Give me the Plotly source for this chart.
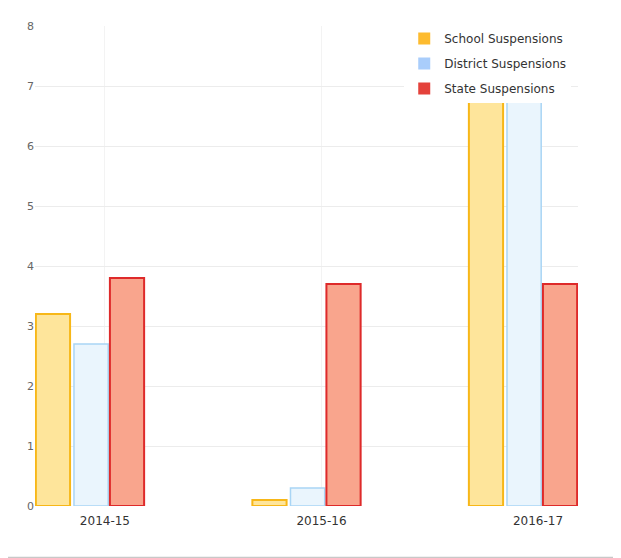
import plotly.graph_objects as go

years = ["2014-15", "2015-16", "2016-17"]
school = [3.2, 0.1, 7.0]
district = [2.7, 0.3, 7.0]
state = [3.8, 3.7, 3.7]
y_ticks = [0, 1, 2, 3, 4, 5, 6, 7, 8]

series = [
    ("School Suspensions", school, "#FEE59B", "#F7B718", "#FDBB2F", -0.319, 2),
    ("District Suspensions", district, "#EAF5FD", "#A9D5F5", "#A9CDFB", -0.143, 1.5),
    ("State Suspensions", state, "#F9A58D", "#DE2A2A", "#E4423B", 0.023, 2),
]

fig = go.Figure()
for name, vals, fill, border, swatch, off, lw in series:
    fig.add_trace(go.Bar(
        x=years, y=vals, name=name, showlegend=False,
        offset=off, width=0.158,
        marker=dict(color=fill, line=dict(color=border, width=lw)),
    ))
for name, vals, fill, border, swatch, off, lw in series:
    fig.add_trace(go.Bar(
        x=[None], y=[None], name=name, legendgroup=name,
        marker=dict(color=swatch, line=dict(color=swatch, width=0)),
    ))

fig.update_layout(
    width=613, height=550,
    margin=dict(l=27, r=43, t=12, b=52),
    paper_bgcolor="white", plot_bgcolor="white",
    barmode="overlay",
    font=dict(family="DejaVu Sans", color="#333333"),
    legend=dict(
        x=0.68, y=1.004, xanchor="left", yanchor="top",
        bgcolor="white", font=dict(size=12, color="#333333"),
        tracegroupgap=6, itemwidth=30,
    ),
    xaxis=dict(
        type="category", range=[-0.323, 2.185],
        showgrid=True, gridcolor="#f3f3f3", gridwidth=1,
        showline=False, zeroline=False, ticks="",
        tickfont=dict(size=12, color="#333333"),
        ticklabelstandoff=6,
    ),
    yaxis=dict(
        range=[0, 8], tickvals=y_ticks,
        showgrid=True, gridcolor="#ececec", gridwidth=1,
        zeroline=False, showline=False, ticks="",
        tickfont=dict(size=11, color="#666666"),
    ),
    shapes=[dict(
        type="line", xref="paper", yref="paper",
        x0=-0.07, x1=1.09, y0=-0.108, y1=-0.108,
        line=dict(color="#c8c8c8", width=2),
    )],
)

fig.write_html("out.html")
